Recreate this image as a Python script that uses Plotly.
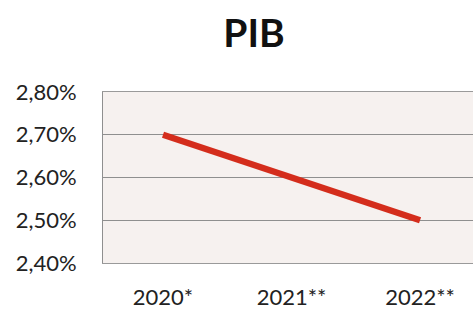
import plotly.graph_objects as go

categories = ["2020*", "2021**", "2022**"]
pib_values = [2.70, 2.60, 2.50]
y_tick_vals = [2.40, 2.50, 2.60, 2.70, 2.80]
y_tick_text = ["2,40%", "2,50%", "2,60%", "2,70%", "2,80%"]

fig = go.Figure()
fig.add_trace(go.Scatter(
    x=list(range(len(categories))), y=pib_values, mode="lines",
    line=dict(color="#d42d1c", width=6.5), showlegend=False,
))

fig.update_layout(
    width=473, height=311,
    margin=dict(l=103, r=0, t=92, b=48, autoexpand=False),
    paper_bgcolor="white",
    plot_bgcolor="#f6f1ef",
    font=dict(family="Lato, Carlito, Arial", color="#222", size=22),
    title=dict(text="<b>PIB</b>", x=254 / 473, xanchor="center", xref="container",
               y=1 - 33 / 311, yanchor="middle",
               font=dict(size=39, color="#111")),
    xaxis=dict(
        range=[-0.467, 2.412], automargin=False,
        tickvals=list(range(len(categories))), ticktext=categories,
        showgrid=False, zeroline=False, showline=True, linecolor="#9a9a9a", mirror=True,
        ticks="", ticklabelstandoff=15,
    ),
    yaxis=dict(
        range=[2.40, 2.80], automargin=False,
        tickvals=y_tick_vals, ticktext=y_tick_text,
        showgrid=True, gridcolor="#8f8f8f", gridwidth=1.2,
        zeroline=False, showline=True, linecolor="#8f8f8f", mirror=True,
        ticks="", ticklabelstandoff=21,
    ),
)

fig.write_html("out.html", config={"displayModeBar": False},
               post_script="document.body.style.margin='0';")
